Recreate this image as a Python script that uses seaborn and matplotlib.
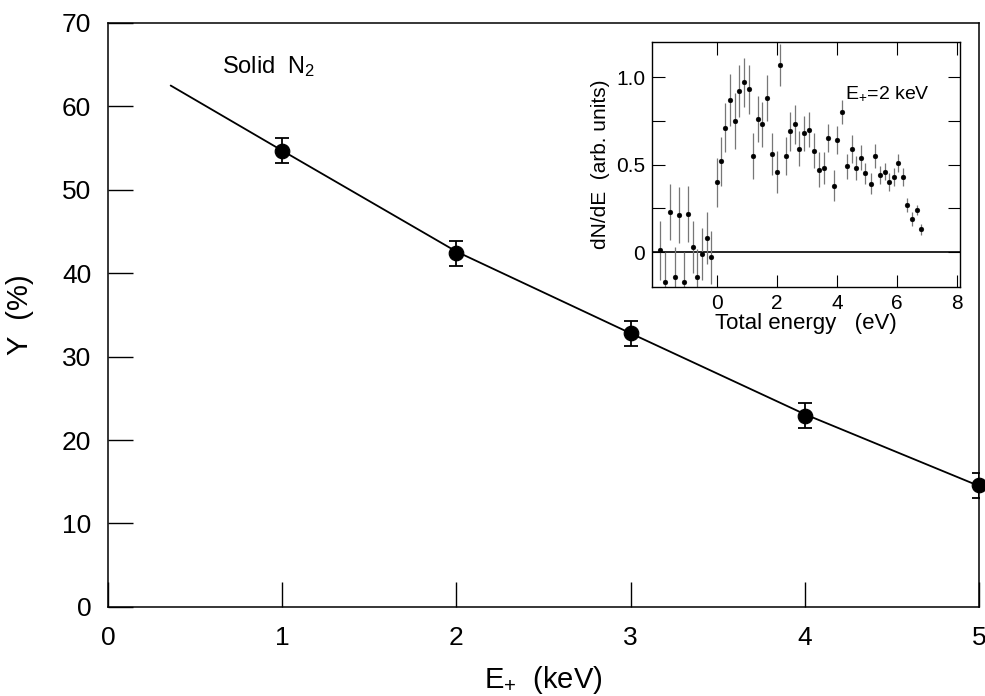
import matplotlib.pyplot as plt
import numpy as np
import pandas as pd
import seaborn as sns

# main panel: yield vs positron energy
E_KEV = [1, 2, 3, 4, 5]
YIELD = [54.7, 42.4, 32.8, 22.9, 14.6]
YIELD_ERR = [1.5, 1.5, 1.5, 1.5, 1.5]
FIT_X = [0.36, 1.0, 2.0, 3.0, 4.0, 5.0]
FIT_Y = [62.5, 54.7, 42.6, 32.8, 23.1, 14.5]

# inset: energy spectrum at E+ = 2 keV
SPEC_E = [-1.87, -1.72, -1.56, -1.40, -1.24, -1.10, -0.94, -0.80, -0.64, -0.49,
          -0.33, -0.18, 0.00, 0.14, 0.29, 0.43, 0.60, 0.74, 0.90, 1.06,
          1.22, 1.37, 1.52, 1.68, 1.84, 2.00, 2.11, 2.30, 2.43, 2.60,
          2.74, 2.90, 3.07, 3.23, 3.40, 3.56, 3.70, 3.89, 4.02, 4.17,
          4.33, 4.49, 4.64, 4.79, 4.94, 5.12, 5.27, 5.42, 5.59, 5.74,
          5.89, 6.02, 6.21, 6.33, 6.51, 6.66, 6.81]
SPEC_N = [0.01, -0.17, 0.23, -0.14, 0.21, -0.17, 0.22, 0.03, -0.14, -0.01,
          0.08, -0.03, 0.40, 0.52, 0.71, 0.87, 0.75, 0.92, 0.97, 0.93,
          0.55, 0.76, 0.73, 0.88, 0.56, 0.46, 1.07, 0.55, 0.69, 0.73,
          0.59, 0.68, 0.70, 0.58, 0.47, 0.48, 0.65, 0.38, 0.64, 0.80,
          0.49, 0.59, 0.48, 0.54, 0.45, 0.39, 0.55, 0.44, 0.46, 0.40,
          0.43, 0.51, 0.43, 0.27, 0.19, 0.24, 0.13]
SPEC_ERR = [0.17, 0.17, 0.16, 0.17, 0.16, 0.17, 0.16, 0.15, 0.16, 0.15,
            0.15, 0.15, 0.14, 0.14, 0.14, 0.15, 0.16, 0.15, 0.14, 0.14,
            0.13, 0.13, 0.13, 0.13, 0.12, 0.12, 0.12, 0.11, 0.11, 0.11,
            0.10, 0.10, 0.10, 0.10, 0.10, 0.09, 0.08, 0.09, 0.08, 0.07,
            0.07, 0.08, 0.07, 0.07, 0.06, 0.06, 0.07, 0.05, 0.05, 0.05,
            0.05, 0.05, 0.05, 0.04, 0.04, 0.03, 0.03]

sns.set_theme(style="ticks")
plt.rcParams["font.family"] = ["Liberation Sans", "DejaVu Sans"]
plt.rcParams["mathtext.fontset"] = "custom"
plt.rcParams["mathtext.rm"] = "Liberation Sans"
plt.rcParams["mathtext.it"] = "Liberation Sans"
plt.rcParams["text.color"] = "black"
plt.rcParams["xtick.color"] = "black"
plt.rcParams["ytick.color"] = "black"
plt.rcParams["axes.labelcolor"] = "black"

fig = plt.figure(figsize=(9.85, 6.96), dpi=100)
ax = fig.add_axes([0.1096, 0.128, 0.8843, 0.839])

main = pd.DataFrame({"E": E_KEV, "Y": YIELD})
fit = pd.DataFrame({"E": FIT_X, "Y": FIT_Y})
sns.lineplot(data=fit, x="E", y="Y", color="black", lw=1.3, ax=ax)
ax.errorbar(E_KEV, YIELD, yerr=YIELD_ERR, fmt="none", ecolor="black",
            elinewidth=1.3, capsize=5, capthick=1.3)
sns.scatterplot(data=main, x="E", y="Y", color="black", s=110,
                edgecolor="black", ax=ax, zorder=5, clip_on=False)

ax.set_xlim(0, 5)
ax.set_ylim(0, 70)
ax.set_xticks(range(0, 6))
ax.set_yticks(range(0, 71, 10))
ax.tick_params(direction="in", length=18, width=1, labelsize=19)
ax.tick_params(axis="x", pad=14)
ax.tick_params(axis="y", pad=12)
for s in ax.spines.values():
    s.set_linewidth(1.1)
    s.set_color("black")
ax.set_xlabel("E$_{+}$  (keV)", fontsize=21, labelpad=10)
ax.set_ylabel("Y  (%)", fontsize=21, labelpad=20)
ax.text(0.655, 64.8, "Solid  N$_2$", fontsize=17, va="center")

# inset
ins = fig.add_axes([0.662, 0.5876, 0.3127, 0.352])
ins.axhline(0, color="black", lw=1.2)
ins.errorbar(SPEC_E, SPEC_N, yerr=SPEC_ERR, fmt="none", ecolor="#777777",
             elinewidth=0.9)
spec = pd.DataFrame({"E": SPEC_E, "N": SPEC_N})
sns.scatterplot(data=spec, x="E", y="N", color="black", s=12,
                edgecolor="black", ax=ins, zorder=5)
ins.set_xlim(-2.15, 8.1)
ins.set_ylim(-0.2, 1.2)
ins.set_xticks([0, 2, 4, 6, 8])
ins.set_yticks([0, 0.5, 1.0])
ins.set_yticklabels(["0", "0.5", "1.0"])
ins.set_yticks([0.25, 0.75], minor=True)
ins.tick_params(which="both", direction="in", top=True, right=True,
                length=9, width=0.8, labelsize=15, pad=5)
for s in ins.spines.values():
    s.set_linewidth(1.0)
    s.set_color("black")
ins.set_xlabel("Total energy   (eV)", fontsize=16, labelpad=0)
ins.set_ylabel("dN/dE  (arb. units)", fontsize=15, labelpad=4)
ins.text(4.28, 0.91, "E$_{+}$=2 keV", fontsize=14, va="center")

fig.savefig("out.png", dpi=100)
